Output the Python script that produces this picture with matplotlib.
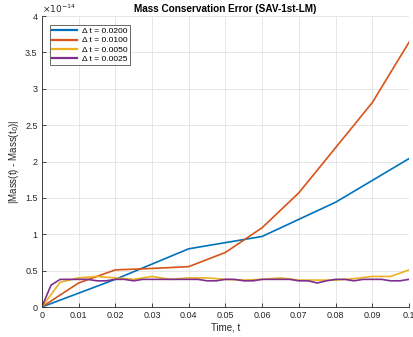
import numpy as np
import matplotlib
matplotlib.use("Agg")
import matplotlib.pyplot as plt
from matplotlib.ticker import FuncFormatter

plt.rcParams['font.family'] = ['Liberation Sans', 'DejaVu Sans']

# Values in units of 1e-14
t_020 = [0, 0.02, 0.04, 0.06, 0.08, 0.10]
e_020 = [0, 0.38, 0.80, 0.97, 1.44, 2.04]

t_010 = [0, 0.01, 0.02, 0.03, 0.04, 0.05, 0.06, 0.07, 0.08, 0.09, 0.10]
e_010 = [0, 0.33, 0.51, 0.53, 0.555, 0.75, 1.09, 1.57, 2.19, 2.81, 3.64]

t_005 = [0, 0.005, 0.01, 0.015, 0.02, 0.025, 0.03, 0.035, 0.04, 0.045, 0.05,
         0.055, 0.06, 0.065, 0.07, 0.075, 0.08, 0.085, 0.09, 0.095, 0.10]
e_005 = [0, 0.34, 0.40, 0.42, 0.40, 0.38, 0.42, 0.38, 0.40, 0.40, 0.38,
         0.37, 0.38, 0.40, 0.37, 0.37, 0.37, 0.39, 0.42, 0.42, 0.51]

t_0025 = [0, 0.0025, 0.005, 0.0075, 0.01, 0.0125, 0.015, 0.0175, 0.02, 0.0225,
          0.025, 0.0275, 0.03, 0.0325, 0.035, 0.0375, 0.04, 0.0425, 0.045, 0.0475,
          0.05, 0.0525, 0.055, 0.0575, 0.06, 0.0625, 0.065, 0.0675, 0.07, 0.0725,
          0.075, 0.0775, 0.08, 0.0825, 0.085, 0.0875, 0.09, 0.0925, 0.095, 0.0975, 0.10]
e_0025 = [0, 0.30, 0.38, 0.38, 0.38, 0.38, 0.36, 0.36, 0.38, 0.38,
          0.36, 0.38, 0.38, 0.38, 0.38, 0.38, 0.38, 0.38, 0.36, 0.36,
          0.38, 0.38, 0.36, 0.36, 0.38, 0.38, 0.38, 0.38, 0.36, 0.36,
          0.33, 0.36, 0.38, 0.38, 0.36, 0.38, 0.38, 0.38, 0.36, 0.36, 0.38]

labels = ['\u0394 t = 0.0200', '\u0394 t = 0.0100', '\u0394 t = 0.0050', '\u0394 t = 0.0025']
colors = ['#0072BD', '#D95319', '#EDB120', '#7E2F8E']

fig = plt.figure(figsize=(4.14, 3.37), dpi=100)
ax = fig.add_axes([0.101, 0.089, 0.887, 0.8635])

series = [(t_020, e_020), (t_010, e_010), (t_005, e_005), (t_0025, e_0025)]
for (tt, ee), lab, c in zip(series, labels, colors):
    ax.plot(tt, ee, color=c, lw=1.2, label=lab)

ax.set_xlim(0, 0.1)
ax.set_ylim(0, 4)
ax.set_xticks(np.arange(0, 0.1001, 0.01))
ax.set_yticks(np.arange(0, 4.01, 0.5))
ax.xaxis.set_major_formatter(FuncFormatter(lambda v, p: '%g' % round(v, 4)))
ax.yaxis.set_major_formatter(FuncFormatter(lambda v, p: '%g' % v))
ax.grid(True, color='#e6e6e6', lw=0.7)
ax.set_axisbelow(True)
for s in ['top', 'right']:
    ax.spines[s].set_visible(False)
for s in ['left', 'bottom']:
    ax.spines[s].set_color('#262626')
    ax.spines[s].set_linewidth(0.6)
ax.tick_params(direction='in', length=3, width=0.6, labelsize=6.5, colors='#262626', pad=3)

ax.text(0.0, 1.005, r'$\times10^{-14}$', transform=ax.transAxes, fontsize=6.5,
        color='#262626', ha='left', va='bottom')
ax.set_title('Mass Conservation Error (SAV-1st-LM)', fontsize=7.2, fontweight='bold', pad=3)
ax.set_xlabel('Time, t', fontsize=7, color='#262626', labelpad=2)
ax.set_ylabel(r'|Mass(t) - Mass(t$_0$)|', fontsize=7, color='#262626', labelpad=3)

leg = ax.legend(loc='upper left', fontsize=6, frameon=True, fancybox=False,
                edgecolor='#262626', handlelength=3.0, handletextpad=0.5,
                borderpad=0.3, labelspacing=0.15, borderaxespad=0,
                bbox_to_anchor=(0.022, 0.969))
leg.get_frame().set_linewidth(0.6)
for line in leg.get_lines():
    line.set_linewidth(1.6)

fig.savefig('out.png', dpi=100)
